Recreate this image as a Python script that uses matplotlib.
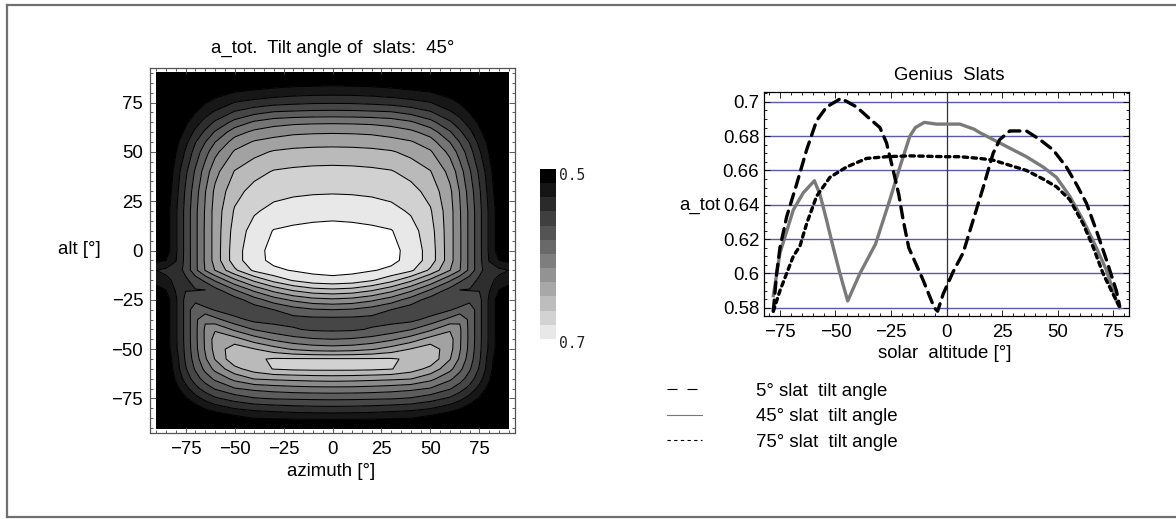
import numpy as np
import matplotlib
matplotlib.use("Agg")
import matplotlib.pyplot as plt
from matplotlib.colors import ListedColormap
from matplotlib.lines import Line2D
from matplotlib.ticker import MultipleLocator, FixedLocator, FuncFormatter

plt.rcParams['font.family'] = ['Liberation Sans', 'DejaVu Sans']
plt.rcParams['lines.scale_dashes'] = False

# ---------------------------------------------------------------------------
# Left panel: a_tot over azimuth / altitude (symmetric in azimuth)
# ---------------------------------------------------------------------------
AZIMUTH_HALF = [0, 10, 20, 30, 40, 50, 60, 65, 70, 75, 80, 85, 90]
ALTITUDE = [-90, -85, -80, -75, -70, -65, -60, -55, -50, -45, -40, -35, -30,
            -25, -20, -15, -10, -5, 0, 10, 20, 30, 40, 50, 55, 60, 65, 70,
            75, 80, 85, 90]
A_TOT_HALF = [
    [0.470, 0.470, 0.469, 0.468, 0.466, 0.462, 0.455, 0.450, 0.444, 0.435, 0.425, 0.410, 0.400],
    [0.504, 0.5035, 0.503, 0.502, 0.5005, 0.4918, 0.4827, 0.4757, 0.465, 0.455, 0.440, 0.425, 0.410],
    [0.534, 0.5335, 0.532, 0.529, 0.526, 0.521, 0.5093, 0.5018, 0.4906, 0.4775, 0.460, 0.440, 0.420],
    [0.564, 0.5635, 0.5625, 0.5615, 0.5581, 0.5483, 0.5366, 0.5254, 0.5125, 0.4975, 0.480, 0.458, 0.440],
    [0.594, 0.5935, 0.592, 0.589, 0.585, 0.5785, 0.5617, 0.5489, 0.533, 0.5137, 0.493, 0.470, 0.450],
    [0.629, 0.628, 0.626, 0.624, 0.621, 0.606, 0.584, 0.569, 0.5506, 0.528, 0.503, 0.477, 0.455],
    [0.665, 0.665, 0.664, 0.661, 0.6496, 0.634, 0.6057, 0.5854, 0.5628, 0.538, 0.5095, 0.480, 0.460],
    [0.662, 0.662, 0.662, 0.662, 0.657, 0.6545, 0.621, 0.597, 0.570, 0.543, 0.511, 0.485, 0.465],
    [0.610, 0.612, 0.618, 0.6285, 0.641, 0.652, 0.627, 0.602, 0.574, 0.545, 0.516, 0.489, 0.469],
    [0.580, 0.582, 0.587, 0.5965, 0.610, 0.628, 0.628, 0.603, 0.575, 0.546, 0.517, 0.490, 0.470],
    [0.556, 0.557, 0.562, 0.569, 0.579, 0.596, 0.618, 0.603, 0.575, 0.546, 0.517, 0.490, 0.470],
    [0.554, 0.554, 0.553, 0.552, 0.554, 0.567, 0.586, 0.5975, 0.575, 0.546, 0.517, 0.490, 0.470],
    [0.580, 0.578, 0.571, 0.560, 0.549, 0.547, 0.558, 0.567, 0.575, 0.546, 0.517, 0.490, 0.470],
    [0.616, 0.613, 0.604, 0.590, 0.571, 0.551, 0.543, 0.543, 0.553, 0.546, 0.517, 0.490, 0.470],
    [0.656, 0.653, 0.643, 0.627, 0.605, 0.579, 0.553, 0.540, 0.539, 0.539, 0.522, 0.500, 0.490],
    [0.695, 0.692, 0.6825, 0.667, 0.645, 0.616, 0.583, 0.565, 0.550, 0.536, 0.525, 0.515, 0.510],
    [0.706, 0.705, 0.7015, 0.696, 0.684, 0.656, 0.6205, 0.601, 0.575, 0.546, 0.528, 0.525, 0.520],
    [0.712, 0.711, 0.709, 0.705, 0.693, 0.671, 0.628, 0.603, 0.575, 0.546, 0.519, 0.500, 0.495],
    [0.715, 0.714, 0.712, 0.706, 0.693, 0.671, 0.628, 0.603, 0.575, 0.546, 0.517, 0.490, 0.470],
    [0.707, 0.706, 0.704, 0.701, 0.688, 0.668, 0.628, 0.603, 0.575, 0.546, 0.517, 0.490, 0.470],
    [0.693, 0.692, 0.690, 0.686, 0.6775, 0.662, 0.628, 0.602, 0.575, 0.546, 0.517, 0.490, 0.470],
    [0.678, 0.6775, 0.676, 0.673, 0.667, 0.653, 0.624, 0.599, 0.571, 0.543, 0.513, 0.485, 0.465],
    [0.666, 0.6655, 0.664, 0.6615, 0.653, 0.641, 0.6136, 0.5895, 0.563, 0.536, 0.508, 0.480, 0.460],
    [0.647, 0.6465, 0.645, 0.642, 0.634, 0.6225, 0.594, 0.572, 0.5486, 0.5227, 0.499, 0.470, 0.450],
    [0.633, 0.6325, 0.631, 0.627, 0.622, 0.609, 0.5795, 0.5595, 0.539, 0.5145, 0.494, 0.465, 0.445],
    [0.618, 0.6175, 0.616, 0.612, 0.605, 0.591, 0.562, 0.544, 0.525, 0.505, 0.485, 0.460, 0.440],
    [0.597, 0.5965, 0.595, 0.591, 0.583, 0.5666, 0.543, 0.5277, 0.5117, 0.496, 0.478, 0.455, 0.435],
    [0.566, 0.5655, 0.564, 0.562, 0.554, 0.5425, 0.523, 0.512, 0.4995, 0.487, 0.470, 0.450, 0.430],
    [0.5375, 0.537, 0.535, 0.532, 0.527, 0.5205, 0.5055, 0.4985, 0.490, 0.480, 0.465, 0.445, 0.425],
    [0.514, 0.5135, 0.512, 0.509, 0.505, 0.501, 0.493, 0.487, 0.480, 0.470, 0.460, 0.440, 0.420],
    [0.494, 0.493, 0.492, 0.490, 0.487, 0.484, 0.478, 0.473, 0.467, 0.460, 0.450, 0.435, 0.415],
    [0.470, 0.470, 0.469, 0.467, 0.464, 0.460, 0.452, 0.446, 0.440, 0.432, 0.424, 0.412, 0.400],
]
CONTOUR_LEVELS = [0.50, 0.52, 0.54, 0.56, 0.58, 0.60, 0.62, 0.64, 0.66, 0.68, 0.70]
SCALE_LABELS = ['0.5', '0.7']
MAP_TICKS = [-75, -50, -25, 0, 25, 50, 75]

# ---------------------------------------------------------------------------
# Right panel: a_tot versus solar altitude for three slat tilt angles
# ---------------------------------------------------------------------------
ALT_5 = [-78, -76.5, -75, -72, -67.5, -63, -58.5, -54, -47.5, -40.5, -34.5,
         -30, -27, -24, -21.5, -19.5, -17, -10.5, -5.5, -4, -1.5, 3, 7.5, 12,
         16.5, 21, 24, 28.5, 36, 42, 48, 54, 58.5, 63, 67.5, 72, 76.5, 78]
A_TOT_5 = [0.578, 0.600, 0.615, 0.633, 0.652, 0.672, 0.689, 0.697, 0.702,
           0.697, 0.690, 0.685, 0.676, 0.660, 0.646, 0.631, 0.615, 0.596,
           0.580, 0.578, 0.588, 0.601, 0.612, 0.631, 0.650, 0.670, 0.678,
           0.683, 0.683, 0.678, 0.672, 0.662, 0.652, 0.641, 0.625, 0.608,
           0.590, 0.581]

ALT_45 = [-78, -75, -69, -64.5, -59.5, -57, -54, -51, -48, -44.5, -39, -32,
          -25.5, -21, -16.5, -14, -10, -4.5, 6, 12.5, 15, 21, 28.5, 36, 43.5,
          49.5, 55.5, 61.5, 67.5, 72, 76.5, 78]
A_TOT_45 = [0.587, 0.612, 0.637, 0.647, 0.654, 0.646, 0.631, 0.615, 0.600,
            0.584, 0.600, 0.617, 0.643, 0.662, 0.680, 0.685, 0.688, 0.687,
            0.687, 0.684, 0.682, 0.678, 0.673, 0.668, 0.662, 0.656, 0.645,
            0.631, 0.615, 0.602, 0.584, 0.580]

ALT_75 = [-78, -75, -72, -69, -66, -63, -58.5, -52.5, -45, -36, -27, -16.5,
          0, 6, 15, 21, 28.5, 36, 43.5, 49.5, 55.5, 61.5, 66, 70.5, 75, 78]
A_TOT_75 = [0.578, 0.590, 0.600, 0.610, 0.616, 0.629, 0.645, 0.656, 0.662,
            0.667, 0.668, 0.6685, 0.668, 0.668, 0.667, 0.666, 0.663, 0.660,
            0.655, 0.6505, 0.643, 0.629, 0.6155, 0.600, 0.588, 0.5805]

SERIES_LABELS = ['5° slat  tilt angle', '45° slat  tilt angle', '75° slat  tilt angle']
ALT_TICKS = [-75, -50, -25, 0, 25, 50, 75]
A_TOT_TICKS = [0.58, 0.60, 0.62, 0.64, 0.66, 0.68, 0.70]

# ---------------------------------------------------------------------------
W, H = 1176, 519
FS = 13.4


def fx(px):
    return px / W


def fy(py):
    return 1 - py / H


fig = plt.figure(figsize=(W / 100, H / 100), dpi=100)

# outer frame (open on the right)
for xs, ys in [((7, W), (5, 5)), ((7, 7), (5, 517)), ((7, W), (517, 517))]:
    fig.add_artist(Line2D([fx(v) for v in xs], [fy(v) for v in ys],
                          transform=fig.transFigure, color='#707070', lw=1.6))

# ---- contour map ----
ax1 = fig.add_axes([fx(150), fy(433), fx(515) - fx(150), fy(68) - fy(433)])
az_half = np.array(AZIMUTH_HALF, dtype=float)
az_full = np.concatenate([-az_half[:0:-1], az_half])
tbl = np.array(A_TOT_HALF)
tbl_full = np.hstack([tbl[:, :0:-1], tbl])

band_greys = np.linspace(0.0, 0.91, 11)
fill_colors = [(g, g, g) for g in band_greys] + [(1.0, 1.0, 1.0)]
bounds = [0.0] + CONTOUR_LEVELS + [1.0]
ax1.contourf(az_full, ALTITUDE, tbl_full, levels=bounds, colors=fill_colors)
ax1.contour(az_full, ALTITUDE, tbl_full, levels=CONTOUR_LEVELS,
            colors='k', linewidths=0.75)
ax1.set_xlim(-93.2, 93.2)
ax1.set_ylim(-92.5, 92.5)
ax1.xaxis.set_major_locator(FixedLocator(MAP_TICKS))
ax1.yaxis.set_major_locator(FixedLocator(MAP_TICKS))
ax1.xaxis.set_minor_locator(MultipleLocator(5))
ax1.yaxis.set_minor_locator(MultipleLocator(5))
ax1.tick_params(which='both', direction='in', top=True, right=True,
                labelsize=FS, color='#444444', width=0.6)
ax1.tick_params(which='major', length=4.5)
ax1.tick_params(which='minor', length=2.2)
ax1.tick_params(axis='y', pad=5)
ax1.tick_params(axis='x', pad=6)
for sp in ax1.spines.values():
    sp.set_color('#555555')
    sp.set_linewidth(0.9)

fig.text(fx(333), fy(48), 'a_tot.  Tilt angle of  slats:  45°', fontsize=FS,
         ha='center', va='center')
fig.text(fx(331), fy(471), 'azimuth [°]', fontsize=FS, ha='center', va='center')
fig.text(fx(101), fy(250), 'alt [°]', fontsize=FS, ha='right', va='center')

# grey scale key
ax_key = fig.add_axes([fx(540), fy(339), fx(556) - fx(540), fy(169) - fy(339)])
key_greys = np.linspace(0.0, 0.91, 12)
ax_key.imshow(np.arange(12).reshape(-1, 1),
              cmap=ListedColormap([(g, g, g) for g in key_greys]),
              aspect='auto', interpolation='nearest')
ax_key.set_axis_off()
fig.text(fx(559), fy(176), SCALE_LABELS[0], fontsize=10.5,
         family='DejaVu Sans Mono', ha='left', va='center', color='#222222')
fig.text(fx(559), fy(343), SCALE_LABELS[1], fontsize=10.5,
         family='DejaVu Sans Mono', ha='left', va='center', color='#222222')

# ---- line chart ----
ax2 = fig.add_axes([fx(764), fy(316), fx(1129) - fx(764), fy(92) - fy(316)])
ax2.set_xlim(-82.2, 82.2)
ax2.set_ylim(0.5752, 0.7057)
ax2.yaxis.set_major_locator(FixedLocator(A_TOT_TICKS))
ax2.xaxis.set_major_locator(FixedLocator(ALT_TICKS))
ax2.xaxis.set_minor_locator(MultipleLocator(5))
ax2.yaxis.set_minor_locator(MultipleLocator(0.005))
ax2.yaxis.set_major_formatter(FuncFormatter(lambda v, p: f'{v:g}'))
ax2.grid(axis='y', which='major', color='#5a5aad', lw=1.0)
ax2.set_axisbelow(True)
ax2.axvline(0, color='#333333', lw=0.9, zorder=1.5)

ax2.plot(ALT_45, A_TOT_45, color='#7a7a7a', lw=2.4, zorder=3,
         solid_joinstyle='round')
ax2.plot(ALT_5, A_TOT_5, color='k', lw=2.4, ls=(0, (8, 5)),
         dash_capstyle='round', zorder=4)
ax2.plot(ALT_75, A_TOT_75, color='k', lw=2.4, ls=(0, (3.2, 3.2)),
         dash_capstyle='round', zorder=4)

ax2.tick_params(which='both', direction='in', top=True, right=True,
                labelsize=FS, width=0.6)
ax2.tick_params(which='major', length=4.5)
ax2.tick_params(which='minor', length=2.2)
ax2.tick_params(axis='y', pad=3.5)
ax2.tick_params(axis='x', pad=5.5)
for sp in ax2.spines.values():
    sp.set_color('k')
    sp.set_linewidth(0.9)

fig.text(fx(949), fy(76), 'Genius  Slats', fontsize=FS, ha='center', va='center')
fig.text(fx(945), fy(353), 'solar  altitude [°]', fontsize=FS, ha='center',
         va='center')
fig.text(fx(720), fy(205), 'a_tot', fontsize=FS, ha='right', va='center')

legend_handles = [
    Line2D([], [], color='k', lw=0.8, ls=(0, (7.2, 7.2))),
    Line2D([], [], color='#777777', lw=0.8),
    Line2D([], [], color='k', lw=0.8, ls=(0, (2.4, 2.4))),
]
fig.legend(legend_handles, SERIES_LABELS, loc='upper left',
           bbox_to_anchor=(fx(666.7), fy(382.8)), frameon=False,
           fontsize=FS, handlelength=1.88, handletextpad=2.9,
           labelspacing=0.45, borderpad=0, borderaxespad=0)

fig.savefig('out.png', dpi=100)
